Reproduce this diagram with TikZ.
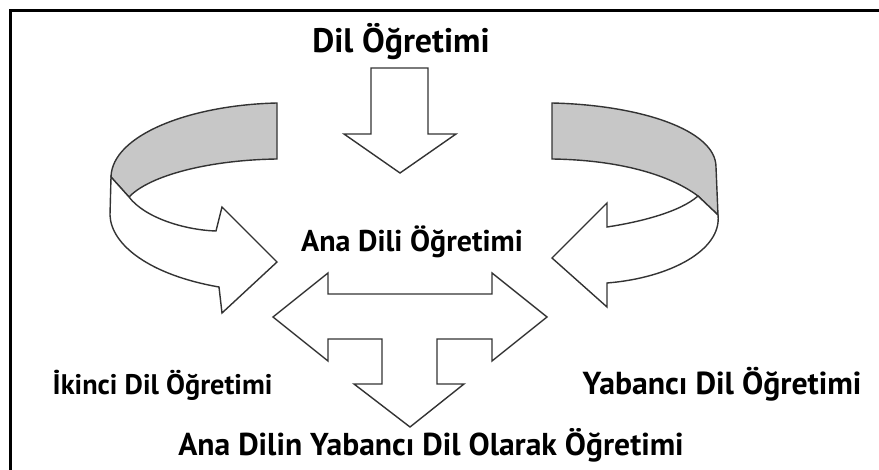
\documentclass[tikz,border=0pt]{standalone}
\usepackage{fontspec}
\setmainfont{PT Sans}
\usepackage{tikz}

\begin{document}
\begin{tikzpicture}[x = 1pt, y = -1pt, line width = 1.4pt,
    lbl/.style = {inner sep = 0pt, font = \bfseries\fontsize{#1}{#1}\selectfont},
    lbl/.default = 30,
    shp/.style = {draw = black!80, fill = white, line join = miter},
    back/.style = {draw = black!80, fill = black!22}]
\useasboundingbox (0,0) rectangle (879,470);
\fill[white] (0,0) rectangle (879,470);
\draw[line width = 3pt] (10.5,470) -- (10.5,10.5) -- (879,10.5);

% labels
\path (401,53) node[lbl = 34, anchor = base](t1){Dil Öğretimi}
    (412,252) node[lbl = 30, anchor = base](t2){Ana Dili Öğretimi}
    (52,395) node[lbl = 28.3, anchor = base west](t3){İkinci Dil Öğretimi}
    (582,395) node[lbl = 31.8, anchor = base west](t4){Yabancı Dil Öğretimi}
    (431,456) node[lbl = 31.6, anchor = base](t5){Ana Dilin Yabancı Dil Olarak Öğretimi};

% down arrow
\draw[shp] (371,68) -- (428,68) -- (428,134) -- (456,134) -- (400,173)
    -- (344,134) -- (371,134) -- cycle;

% left ribbon
\draw[back] (277,103) .. controls (190,105) and (112,135) .. (111,177)
    -- (129,197) .. controls (150,175) and (210,160) .. (277,159) -- cycle;
\draw[shp] (111,177) -- (110,215) .. controls (111,245) and (150,275) .. (219,287)
    -- (222,313) -- (277,262) -- (222,207) -- (216,231)
    .. controls (185,230) and (145,218) .. (129,197) -- cycle;

% right ribbon
\draw[back] (552,103) .. controls (640,105) and (716,130) .. (716,167)
    -- (718,215) -- (698,196) .. controls (670,175) and (620,160) .. (552,159) -- cycle;
\draw[shp] (698,196) -- (718,215) .. controls (722,250) and (670,278) .. (607,283)
    -- (607,307) -- (552,258) -- (607,203) -- (607,227)
    .. controls (640,222) and (680,212) .. (698,196) -- cycle;

% double arrow with down arrow
\draw[shp] (273,317) -- (328,273) -- (328,294) -- (492,294) -- (492,273)
    -- (547,317) -- (492,361) -- (492,339) -- (437,339) -- (437,384)
    -- (464,384) -- (410,427) -- (354,384) -- (382,384) -- (382,339)
    -- (328,339) -- (328,361) -- cycle;
\end{tikzpicture}
\end{document}
